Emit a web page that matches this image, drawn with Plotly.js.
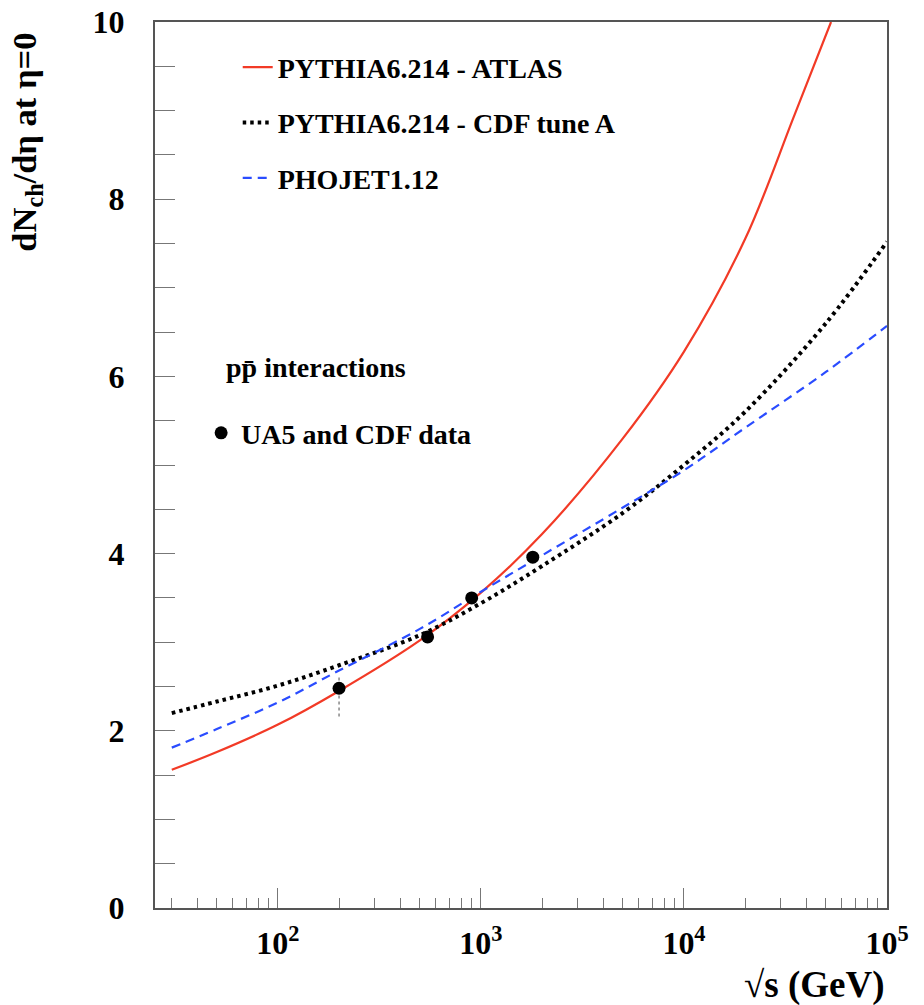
<!DOCTYPE html>
<html>
<head>
<meta charset="utf-8">
<script src="https://cdn.plot.ly/plotly-3.0.1.min.js"></script>
<style>html,body{margin:0;padding:0;background:#fff;}#chart{width:924px;height:1005px;}</style>
</head>
<body>
<div id="chart"></div>
<script>
// PYTHIA6.214 - ATLAS (leaves the frame at 10 near 53 TeV)
const atlasX = [30, 50, 100, 200, 500, 1000, 2000, 5000, 10000, 20000, 35000, 53000];
const atlasY = [1.56, 1.76, 2.07, 2.45, 3.02, 3.56, 4.22, 5.30, 6.28, 7.55, 8.95, 10.0];
// PYTHIA6.214 - CDF tune A
const cdfX = [30, 50, 100, 200, 500, 1000, 2000, 5000, 10000, 20000, 50000, 100000];
const cdfY = [2.20, 2.33, 2.51, 2.74, 3.08, 3.44, 3.86, 4.46, 5.00, 5.60, 6.60, 7.52];
// PHOJET1.12
const phoX = [30, 50, 100, 200, 500, 1000, 2000, 5000, 10000, 20000, 50000, 100000];
const phoY = [1.81, 2.02, 2.32, 2.68, 3.15, 3.57, 3.98, 4.52, 4.94, 5.42, 6.05, 6.57];

// UA5 and CDF data
const dataX = [200, 546, 900, 1800];
const dataY = [2.48, 3.06, 3.50, 3.96];
const errUp = [0.15, 0, 0, 0];
const errDown = [0.32, 0, 0, 0];

const xMajor = [100, 1000, 10000, 100000];
const xMajorText = ['10<sup>2</sup>', '10<sup>3</sup>', '10<sup>4</sup>', '10<sup>5</sup>'];
const xMinor = [30,40,50,60,70,80,90,200,300,400,500,600,700,800,900,2000,3000,4000,5000,6000,7000,8000,9000,20000,30000,40000,50000,60000,70000,80000,90000];
const yMajor = [0, 2, 4, 6, 8, 10];

const names = ['PYTHIA6.214 - ATLAS', 'PYTHIA6.214 - CDF tune A', 'PHOJET1.12'];

// error bars as dotted segments
const ex = [], ey = [];
dataX.forEach((x, i) => {
  if (errUp[i] + errDown[i] > 0) {
    ex.push(x, x, null);
    ey.push(dataY[i] - errDown[i], dataY[i] + errUp[i], null);
  }
});

const serif = 'Liberation Serif, Times New Roman, serif';

const traces = [
  {x: atlasX, y: atlasY, mode: 'lines', name: names[0], legendgroup: 'a',
   line: {color: '#f23a26', width: 2.2, shape: 'spline', smoothing: 1}},
  {x: cdfX, y: cdfY, mode: 'lines', name: names[1], legendgroup: 'b',
   line: {color: '#000000', width: 4, dash: '3.5px,4px', shape: 'spline', smoothing: 1}},
  {x: phoX, y: phoY, mode: 'lines', name: names[2], legendgroup: 'c',
   line: {color: '#2a4cff', width: 2.2, dash: '9px,6px', shape: 'spline', smoothing: 1}},
  {x: ex, y: ey, mode: 'lines', showlegend: false, hoverinfo: 'skip',
   line: {color: '#888888', width: 1.5, dash: 'dot'}},
  {x: dataX, y: dataY, mode: 'markers', name: 'UA5 and CDF data', legend: 'legend2',
   marker: {color: '#000000', size: 13}}
];

const layout = {
  width: 924, height: 1005,
  margin: {l: 155, r: 37, t: 22, b: 97},
  paper_bgcolor: '#ffffff', plot_bgcolor: '#ffffff',
  font: {family: serif, color: '#000000'},
  showlegend: true,
  xaxis: {
    type: 'log', range: [Math.log10(24.8), 5],
    showgrid: false, zeroline: false,
    showline: true, mirror: true, linecolor: '#555555', linewidth: 2,
    ticks: 'inside', ticklen: 20, tickwidth: 1, tickcolor: '#777777',
    tickmode: 'array', tickvals: xMajor, ticktext: xMajorText,
    tickfont: {family: serif, size: 32, color: '#000000', weight: 'bold'},
    ticklabelstandoff: 6,
    minor: {tickmode: 'array', tickvals: xMinor, ticks: 'inside', ticklen: 10, tickwidth: 1, tickcolor: '#777777', showgrid: false}
  },
  yaxis: {
    range: [0, 10],
    showgrid: false, zeroline: false,
    showline: true, mirror: true, linecolor: '#555555', linewidth: 2,
    ticks: 'inside', ticklen: 20, tickwidth: 1, tickcolor: '#777777',
    tickmode: 'array', tickvals: yMajor,
    tickfont: {family: serif, size: 32, color: '#000000', weight: 'bold'},
    ticklabelstandoff: 22,
    minor: {dtick: 0.5, ticks: 'inside', ticklen: 20, tickwidth: 1, tickcolor: '#777777', showgrid: false}
  },
  legend: {
    x: 0.113, y: 0.977, xanchor: 'left', yanchor: 'top',
    bgcolor: 'rgba(0,0,0,0)', borderwidth: 0,
    font: {family: serif, size: 28, color: '#000000', weight: 'bold'},
    traceorder: 'grouped', tracegroupgap: 16, itemwidth: 30
  },
  legend2: {
    x: 0.063, y: 0.536, xanchor: 'left', yanchor: 'middle',
    bgcolor: 'rgba(0,0,0,0)', borderwidth: 0,
    font: {family: serif, size: 28, color: '#000000', weight: 'bold'},
    itemwidth: 30
  },
  annotations: [
    {xref: 'paper', yref: 'paper', x: -0.176, y: 0.864, xanchor: 'center', yanchor: 'middle',
     textangle: -90, showarrow: false,
     text: '<b>dN<sub>ch</sub>/dη at η=0</b>', font: {family: serif, size: 34.5, color: '#000000'}},
    {xref: 'paper', yref: 'paper', x: 1.0, y: -0.087, xanchor: 'right', yanchor: 'middle',
     showarrow: false, text: '<b>√s (GeV)</b>', font: {family: serif, size: 37, color: '#000000'}},
    {xref: 'paper', yref: 'paper', x: 0.094, y: 0.6095, xanchor: 'left', yanchor: 'middle',
     showarrow: false, text: '<b>pp̄ interactions</b>', font: {family: serif, size: 28, color: '#000000'}}
  ]
};

Plotly.newPlot('chart', traces, layout, {displayModeBar: false, staticPlot: true});
</script>
</body>
</html>
